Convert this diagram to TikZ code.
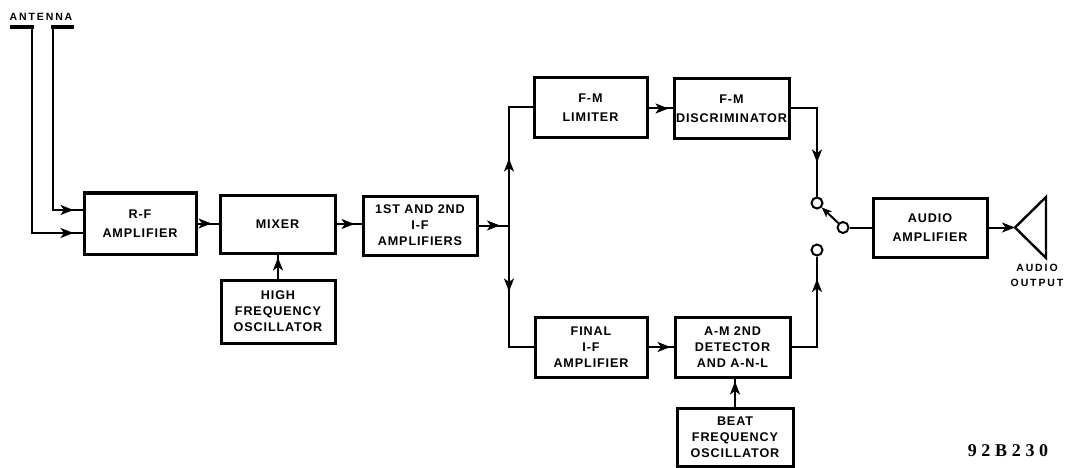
\documentclass[tikz,border=0pt]{standalone}
\usepackage{fontspec}
\setmainfont{Liberation Sans}
\newfontfamily\lbl{Liberation Sans}[LetterSpace=7]
\newfontfamily\lbls{Liberation Sans}[LetterSpace=18]
\newfontfamily\codefont{Liberation Serif}[LetterSpace=26]
\usetikzlibrary{arrows.meta,decorations.markings}
\tikzset{
  blk/.style={draw, line width=3pt, align=center, inner sep=0pt,
    font=\lbl\bfseries\fontsize{12.6}{16}\selectfont},
  two/.style={font=\lbl\bfseries\fontsize{12.6}{19.5}\selectfont},
  conn/.style={line width=2pt},
  arr/.style={postaction={decorate},
    decoration={markings, mark=at position #1 with {\arrow{Stealth[length=13pt,width=10pt,inset=3.5pt]}}}},
  endarr/.style={-{Stealth[length=13pt,width=10pt,inset=3.5pt]}},
  sw/.style={circle, draw, line width=2pt, minimum size=11pt, inner sep=0pt},
  smalllbl/.style={font=\lbls\bfseries\fontsize{10.5}{15}\selectfont, align=center, inner sep=0pt}
}
\begin{document}
\begin{tikzpicture}[x=1pt,y=-1pt]
\useasboundingbox (0,0) rectangle (1066,468);
% blocks
\node[blk,two,minimum width=112pt,minimum height=61pt] (rf) at (140,223.5) {R-F\\AMPLIFIER};
\node[blk,minimum width=115pt,minimum height=58pt] (mixer) at (277.5,224) {MIXER};
\node[blk,minimum width=114pt,minimum height=63pt] (hfo) at (278,311.5) {HIGH\\FREQUENCY\\OSCILLATOR};
\node[blk,minimum width=114pt,minimum height=59pt] (ifa) at (420,225.5) {1ST AND 2ND\\I-F\\AMPLIFIERS};
\node[blk,two,minimum width=113pt,minimum height=60pt] (lim) at (590.5,107.5) {F-M\\LIMITER};
\node[blk,two,minimum width=115pt,minimum height=60pt] (disc) at (731.5,108.5) {F-M\\DISCRIMINATOR};
\node[blk,minimum width=112pt,minimum height=60pt] (fif) at (591,347) {FINAL\\I-F\\AMPLIFIER};
\node[blk,minimum width=115pt,minimum height=60pt] (amd) at (732.5,347) {A-M 2ND\\DETECTOR\\AND A-N-L};
\node[blk,minimum width=116pt,minimum height=58pt] (bfo) at (735,437) {BEAT\\FREQUENCY\\OSCILLATOR};
\node[blk,two,minimum width=114pt,minimum height=59pt] (aud) at (930,227.5) {AUDIO\\AMPLIFIER};
% switch
\node[sw] (sw1) at (817,203) {};
\node[sw] (sw2) at (817,250) {};
\node[sw] (swp) at (843,227.5) {};
% antenna
\node[smalllbl] (antlbl) at (41,17) {ANTENNA};
\coordinate (antL) at (32,27);
\coordinate (antR) at (53,27);
\coordinate (aU) at (53,210);
\coordinate (aL) at (32,233);
\draw[line width=4pt] (10,27) -- (34,27);
\draw[line width=4pt] (51,27) -- (74,27);
\draw[conn,arr=-9pt] (antR) -- (aU) -- (rf.west |- aU);
\draw[conn,arr=-9pt] (antL) -- (aL) -- (rf.west |- aL);
% main chain
\draw[conn,arr=-7pt] (rf.east) -- (rf.east -| mixer.west);
\draw[conn,arr=-7pt] (mixer.east) -- (mixer.east -| ifa.west);
\draw[conn,arr=-3pt] (hfo.north) -- (hfo.north |- mixer.south);
\coordinate (bus) at (509,225.5);
\draw[conn,arr=-9pt] (ifa.east) -- (bus);
\draw[conn,arr=67pt] (bus) -- (bus |- lim.west) -- (lim.west);
\draw[conn,arr=66pt] (bus) -- (bus |- fif.west) -- (fif.west);
\draw[conn,arr=-4pt] (lim.east |- disc.west) -- (disc.west);
\draw[conn,arr=-3pt] (fif.east) -- (amd.west);
\draw[conn,arr=-3pt] (bfo.north) -- (bfo.north |- amd.south);
\draw[conn,arr=-34pt] (disc.east) -- (disc.east -| sw1) -- (sw1.north);
\draw[conn,arr=-22.5pt] (amd.east) -- (amd.east -| sw2) -- (sw2.south);
\draw[conn,-{Stealth[length=10pt,width=8pt,inset=2.5pt]}] (swp) -- (sw1);
\draw[conn] (swp) -- (aud.west |- swp);
% speaker
\coordinate (apex) at (1015,227.5);
\draw[line width=2.4pt, line join=miter] (apex) -- (1046,197) -- (1046,258) -- cycle;
\draw[conn,endarr] (aud.east) -- (apex);
\node[smalllbl] (outlbl) at (1037,275.5) {AUDIO\\OUTPUT};
\node[font=\codefont\bfseries\fontsize{18}{18}\selectfont, inner sep=0pt] (code) at (1008,451) {92B230};
\end{tikzpicture}
\end{document}
